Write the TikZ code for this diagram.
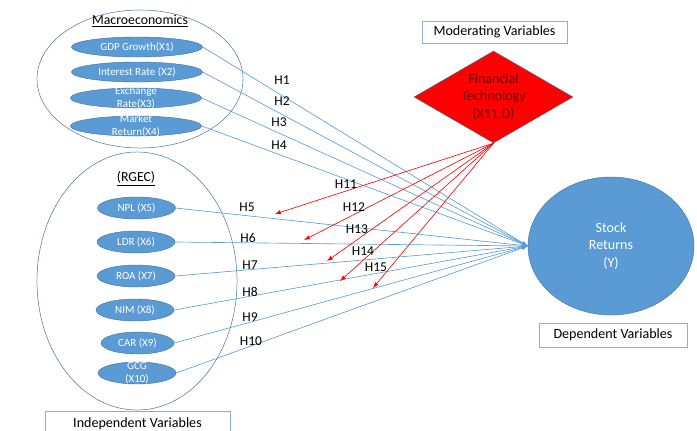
\documentclass[tikz,border=0pt]{standalone}
\usepackage{fontspec}
\setmainfont{Carlito}
\usetikzlibrary{shapes.geometric}
\definecolor{varblue}{RGB}{91,155,213}
\definecolor{varedge}{RGB}{65,113,156}
\definecolor{boxedge}{RGB}{143,170,220}
\definecolor{fintxt}{RGB}{112,0,0}
\newcommand{\smalltxt}{\fontsize{7.8}{9.5}\selectfont}
\newcommand{\bigtxt}{\fontsize{10}{12.6}\selectfont}

\begin{document}
\begin{tikzpicture}[x=0.025cm,y=-0.025cm,
  group/.style = {ellipse, draw=varedge, line width=0.35pt, inner sep=0pt},
  macrovar/.style = {ellipse, fill=varblue, draw=varedge, line width=0.3pt, inner sep=0pt,
    minimum width=3.275cm, minimum height=0.5cm},
  rgecvar/.style = {macrovar, minimum width=1.95cm, minimum height=0.55cm},
  vartext/.style = {text=white, font=\smalltxt, align=center},
  titlebox/.style = {draw=boxedge, fill=white, line width=0.5pt, font=\bigtxt, inner sep=0pt},
  hyplabel/.style = {font=\fontsize{9.6}{11}\selectfont, inner sep=1pt},
  effect/.style = {draw=varblue, line width=0.45pt, -latex},
  moderation/.style = {draw=red, line width=0.45pt, -latex}]
\useasboundingbox (0,0) rectangle (697,430);

% macroeconomic group
\node[group, minimum width=5.15cm, minimum height=3.45cm] (macro) at (140,79) {};
\node[font=\fontsize{9.8}{11}\selectfont] (macrotitle) at (140,21) {\underline{Macroeconomics}};
\node[macrovar, label={[vartext]center:GDP Growth(X1)}] (x1) at (137,47) {};
\node[macrovar, label={[vartext]center:Interest Rate (X2)}] (x2) at (137,72) {};
\node[macrovar, label={[vartext]center:{Exchange\\Rate(X3)}}] (x3) at (136,98) {};
\node[macrovar, label={[vartext]center:{Market\\Return(X4)}}] (x4) at (136,126) {};

% RGEC group
\node[group, minimum width=5cm, minimum height=6.45cm] (rgec) at (137,281) {};
\node[font=\fontsize{9.8}{11}\selectfont] (rgectitle) at (136,179) {\underline{(RGEC)}};
\node[rgecvar, label={[vartext]center:NPL (X5)}] (x5) at (136.5,208) {};
\node[rgecvar, label={[vartext]center:LDR (X6)}] (x6) at (136,242) {};
\node[rgecvar, label={[vartext]center:ROA (X7)}] (x7) at (136,276) {};
\node[rgecvar, label={[vartext]center:NIM (X8)}] (x8) at (135,310) {};
\node[rgecvar, minimum width=1.825cm, label={[vartext]center:CAR (X9)}] (x9) at (137.5,343) {};
\node[rgecvar, label={[vartext]center:{GCG\\(X10)}}] (x10) at (137,373) {};

% dependent and moderating variables
\node[ellipse, fill=varblue, draw=varedge, line width=0.3pt, inner sep=0pt,
  minimum width=4.15cm, minimum height=3.45cm, text=white, font=\bigtxt, align=center]
  (stock) at (611,246) {Stock\\Returns\\(Y)};
\node[diamond, fill=red, draw=varedge, line width=0.3pt, inner sep=0pt,
  minimum width=3.975cm, minimum height=2.3cm] (fin) at (493.5,97) {};
\node[text=fintxt, font=\bigtxt, align=center] (fintitle) at (fin) {Financial\\Technology\\(X11,D)};

\node[titlebox, minimum width=3.625cm, minimum height=0.55cm] (modbox) at (494.5,32) {Moderating Variables};
\node[titlebox, minimum width=3.7cm, minimum height=0.6cm] (depbox) at (613,335) {Dependent Variables};
\node[titlebox, minimum width=4.625cm, minimum height=0.65cm] (indbox) at (137.5,424) {Independent Variables};

% direct effects H1--H10
\foreach \v in {x1,x2,x3,x4,x5,x6,x7,x8,x9,x10} {
  \draw[effect] (\v.east) -- (stock.west);
}

% moderating effects H11--H15
\coordinate (m11) at (275,214);
\coordinate (m12) at (304,240);
\coordinate (m13) at (327,261);
\coordinate (m14) at (340,281);
\coordinate (m15) at (373,288);
\foreach \m in {m11,m12,m13,m14,m15} {
  \draw[moderation] (fin.south) -- (\m);
}

\foreach \h/\c in {1/{(282,80)},2/{(282,101)},3/{(279,122)},4/{(279,145)},
                   5/{(247,207)},6/{(248,238)},7/{(250,265)},8/{(250,292)},
                   9/{(250,317)},10/{(251,341)},11/{(346,184)},12/{(354,207)},
                   13/{(357,229)},14/{(363,251)},15/{(376,267)}} {
  \node[hyplabel] (h\h) at \c {H\h};
}
\end{tikzpicture}
\end{document}
